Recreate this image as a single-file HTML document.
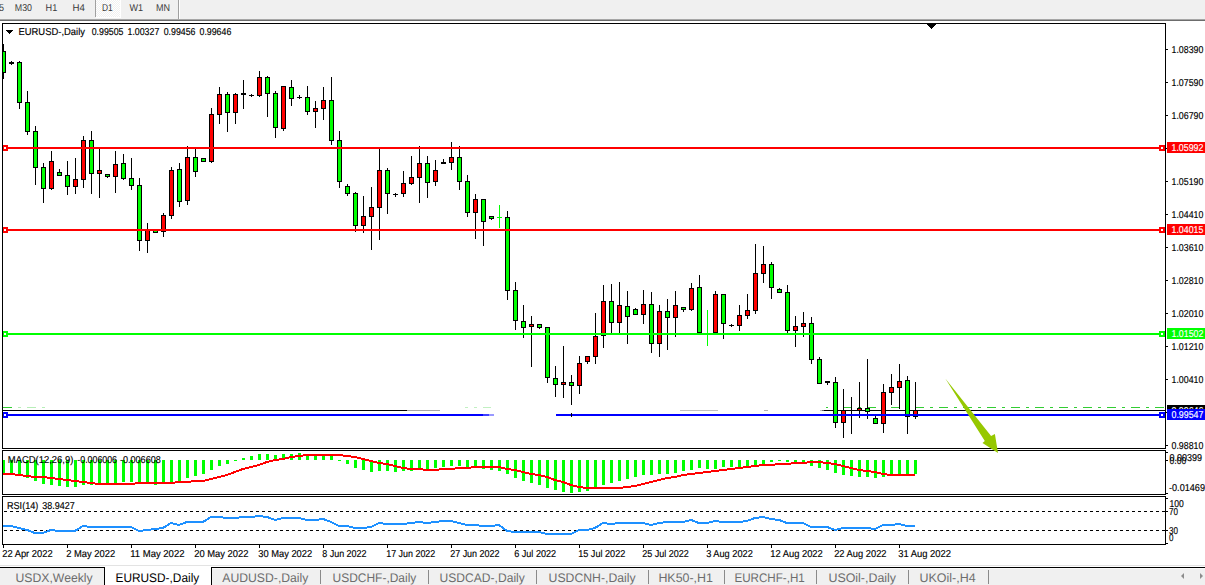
<!DOCTYPE html>
<html><head><meta charset="utf-8"><title>EURUSD-,Daily</title>
<style>
html,body{margin:0;padding:0;background:#fff;overflow:hidden;width:1205px;height:585px}
svg{display:block}
text{font-family:'Liberation Sans', Arial, sans-serif;text-rendering:geometricPrecision}
</style></head><body>
<svg width="1205" height="585" viewBox="0 0 1205 585">
<rect width="1205" height="585" fill="#fff"/>
<rect x="0" y="0" width="1205" height="19" fill="#f0f0f0"/>
<rect x="0" y="19" width="1205" height="1" fill="#a6a6a6"/>
<rect x="0" y="20" width="1205" height="1" fill="#6c6c6c"/>
<rect x="0" y="21" width="1205" height="2" fill="#ffffff"/>
<rect x="96" y="0" width="24" height="17" fill="url(#chk)"/>
<rect x="120" y="0" width="1" height="17" fill="#ffffff"/>
<rect x="96" y="17" width="25" height="1" fill="#ffffff"/>
<rect x="95" y="0" width="1" height="17" fill="#a0a0a0"/>
<rect x="178" y="0" width="1" height="19" fill="#a0a0a0"/>
<rect x="179" y="0" width="1" height="19" fill="#ffffff"/>
<text x="-1.0" y="11" font-size="10.0" fill="#3a3a3a" textLength="5.0" lengthAdjust="spacingAndGlyphs">5</text>
<text x="14.8" y="11" font-size="10.0" fill="#3a3a3a" textLength="17.2" lengthAdjust="spacingAndGlyphs">M30</text>
<text x="45.6" y="11" font-size="10.0" fill="#3a3a3a" textLength="11.7" lengthAdjust="spacingAndGlyphs">H1</text>
<text x="72.6" y="11" font-size="10.0" fill="#3a3a3a" textLength="12.4" lengthAdjust="spacingAndGlyphs">H4</text>
<text x="102" y="11" font-size="10.0" fill="#3a3a3a" textLength="10.8" lengthAdjust="spacingAndGlyphs">D1</text>
<text x="129.4" y="11" font-size="10.0" fill="#3a3a3a" textLength="13.6" lengthAdjust="spacingAndGlyphs">W1</text>
<text x="156" y="11" font-size="10.0" fill="#3a3a3a" textLength="14" lengthAdjust="spacingAndGlyphs">MN</text>
<defs><clipPath id="cm"><rect x="3" y="24" width="1162" height="424"/></clipPath><clipPath id="cmacd"><rect x="3" y="451" width="1162" height="43"/></clipPath><clipPath id="crsi"><rect x="3" y="497" width="1162" height="47"/></clipPath><pattern id="chk" x="0" y="0" width="2" height="2" patternUnits="userSpaceOnUse"><rect width="2" height="2" fill="#f0f0f0"/><rect width="1" height="1" fill="#ffffff"/><rect x="1" y="1" width="1" height="1" fill="#ffffff"/></pattern></defs>
<g clip-path="url(#cm)">
<rect x="3" y="407" width="9" height="1" fill="#32cd32"/>
<rect x="18" y="407" width="3" height="1" fill="#32cd32" opacity="0.35"/>
<rect x="27" y="407" width="9" height="1" fill="#32cd32" opacity="0.35"/>
<rect x="42" y="407" width="3" height="1" fill="#32cd32" opacity="0.35"/>
<rect x="465" y="407" width="3" height="1" fill="#32cd32" opacity="0.3"/>
<rect x="474" y="407" width="3" height="1" fill="#32cd32" opacity="0.3"/>
<rect x="483" y="407" width="8" height="1" fill="#32cd32" opacity="0.3"/>
<rect x="826" y="407" width="2" height="1" fill="#32cd32"/>
<rect x="834" y="407" width="3" height="1" fill="#32cd32"/>
<rect x="843" y="407" width="9" height="1" fill="#32cd32"/>
<rect x="858" y="407" width="3" height="1" fill="#32cd32"/>
<rect x="867" y="407" width="9" height="1" fill="#32cd32"/>
<rect x="882" y="407" width="3" height="1" fill="#32cd32"/>
<rect x="891" y="407" width="9" height="1" fill="#32cd32"/>
<rect x="906" y="407" width="3" height="1" fill="#32cd32"/>
<rect x="915" y="407" width="9" height="1" fill="#32cd32"/>
<rect x="930" y="407" width="3" height="1" fill="#32cd32"/>
<rect x="939" y="407" width="9" height="1" fill="#32cd32"/>
<rect x="954" y="407" width="3" height="1" fill="#32cd32"/>
<rect x="963" y="407" width="9" height="1" fill="#32cd32"/>
<rect x="978" y="407" width="3" height="1" fill="#32cd32"/>
<rect x="987" y="407" width="9" height="1" fill="#32cd32"/>
<rect x="1002" y="407" width="3" height="1" fill="#32cd32"/>
<rect x="1011" y="407" width="9" height="1" fill="#32cd32"/>
<rect x="1026" y="407" width="3" height="1" fill="#32cd32"/>
<rect x="1035" y="407" width="9" height="1" fill="#32cd32"/>
<rect x="1050" y="407" width="3" height="1" fill="#32cd32"/>
<rect x="1059" y="407" width="9" height="1" fill="#32cd32"/>
<rect x="1074" y="407" width="3" height="1" fill="#32cd32"/>
<rect x="1083" y="407" width="9" height="1" fill="#32cd32"/>
<rect x="1098" y="407" width="3" height="1" fill="#32cd32"/>
<rect x="1107" y="407" width="9" height="1" fill="#32cd32"/>
<rect x="1122" y="407" width="3" height="1" fill="#32cd32"/>
<rect x="1131" y="407" width="9" height="1" fill="#32cd32"/>
<rect x="1146" y="407" width="3" height="1" fill="#32cd32"/>
<rect x="1155" y="407" width="9" height="1" fill="#32cd32"/>
<rect x="3" y="410" width="404" height="1" fill="#000"/>
<rect x="407" y="410" width="33" height="1" fill="#000" opacity="0.35"/>
<rect x="680" y="410" width="38" height="1" fill="#000" opacity="0.25"/>
<rect x="764" y="410" width="4" height="1" fill="#000" opacity="0.3"/>
<rect x="820" y="410" width="2" height="1" fill="#000" opacity="0.25"/>
<rect x="822" y="410" width="2" height="1" fill="#000" opacity="0.6"/>
<rect x="824" y="410" width="341" height="1" fill="#000"/>
<rect x="3" y="44.0" width="1" height="35.0" fill="#000"/>
<rect x="1" y="51.0" width="5" height="22.0" fill="#000"/>
<rect x="2" y="52.0" width="3" height="20.0" fill="#00ff00"/>
<rect x="11" y="61.0" width="1" height="4.0" fill="#000"/>
<rect x="9" y="62.0" width="5" height="2.0" fill="#000"/>
<rect x="19" y="61.0" width="1" height="48.0" fill="#000"/>
<rect x="17" y="62.0" width="5" height="41.0" fill="#000"/>
<rect x="18" y="63.0" width="3" height="39.0" fill="#00ff00"/>
<rect x="27" y="91.0" width="1" height="44.0" fill="#000"/>
<rect x="25" y="102.0" width="5" height="30.0" fill="#000"/>
<rect x="26" y="103.0" width="3" height="28.0" fill="#00ff00"/>
<rect x="35" y="126.0" width="1" height="59.0" fill="#000"/>
<rect x="33" y="131.0" width="5" height="37.0" fill="#000"/>
<rect x="34" y="132.0" width="3" height="35.0" fill="#00ff00"/>
<rect x="43" y="163.0" width="1" height="40.0" fill="#000"/>
<rect x="41" y="167.0" width="5" height="22.0" fill="#000"/>
<rect x="42" y="168.0" width="3" height="20.0" fill="#00ff00"/>
<rect x="51" y="151.0" width="1" height="39.0" fill="#000"/>
<rect x="49" y="161.0" width="5" height="28.0" fill="#000"/>
<rect x="50" y="162.0" width="3" height="26.0" fill="#ff0000"/>
<rect x="59" y="169.0" width="1" height="7.0" fill="#000"/>
<rect x="57" y="172.0" width="5" height="4.0" fill="#000"/>
<rect x="58" y="173.0" width="3" height="2.0" fill="#00ff00"/>
<rect x="67" y="161.0" width="1" height="34.0" fill="#000"/>
<rect x="65" y="175.0" width="5" height="12.0" fill="#000"/>
<rect x="66" y="176.0" width="3" height="10.0" fill="#00ff00"/>
<rect x="75" y="158.0" width="1" height="36.0" fill="#000"/>
<rect x="73" y="179.0" width="5" height="8.0" fill="#000"/>
<rect x="74" y="180.0" width="3" height="6.0" fill="#ff0000"/>
<rect x="83" y="136.0" width="1" height="52.0" fill="#000"/>
<rect x="81" y="140.0" width="5" height="40.0" fill="#000"/>
<rect x="82" y="141.0" width="3" height="38.0" fill="#ff0000"/>
<rect x="91" y="131.0" width="1" height="63.0" fill="#000"/>
<rect x="89" y="140.0" width="5" height="34.0" fill="#000"/>
<rect x="90" y="141.0" width="3" height="32.0" fill="#00ff00"/>
<rect x="99" y="148.0" width="1" height="50.0" fill="#000"/>
<rect x="97" y="170.0" width="5" height="4.0" fill="#000"/>
<rect x="98" y="171.0" width="3" height="2.0" fill="#ff0000"/>
<rect x="107" y="174.0" width="1" height="4.0" fill="#000"/>
<rect x="105" y="174.0" width="5" height="3.0" fill="#000"/>
<rect x="106" y="175.0" width="3" height="1.0" fill="#00ff00"/>
<rect x="115" y="151.0" width="1" height="42.0" fill="#000"/>
<rect x="113" y="164.0" width="5" height="13.0" fill="#000"/>
<rect x="114" y="165.0" width="3" height="11.0" fill="#ff0000"/>
<rect x="123" y="154.0" width="1" height="26.0" fill="#000"/>
<rect x="121" y="163.0" width="5" height="16.0" fill="#000"/>
<rect x="122" y="164.0" width="3" height="14.0" fill="#00ff00"/>
<rect x="131" y="158.0" width="1" height="32.0" fill="#000"/>
<rect x="129" y="178.0" width="5" height="8.0" fill="#000"/>
<rect x="130" y="179.0" width="3" height="6.0" fill="#00ff00"/>
<rect x="139" y="178.0" width="1" height="73.0" fill="#000"/>
<rect x="137" y="185.0" width="5" height="56.0" fill="#000"/>
<rect x="138" y="186.0" width="3" height="54.0" fill="#00ff00"/>
<rect x="147" y="223.0" width="1" height="30.0" fill="#000"/>
<rect x="145" y="229.0" width="5" height="12.0" fill="#000"/>
<rect x="146" y="230.0" width="3" height="10.0" fill="#ff0000"/>
<rect x="155" y="230.0" width="1" height="3.0" fill="#000"/>
<rect x="153" y="230.0" width="5" height="3.0" fill="#000"/>
<rect x="154" y="231.0" width="3" height="1.0" fill="#00ff00"/>
<rect x="163" y="213.0" width="1" height="24.0" fill="#000"/>
<rect x="161" y="215.0" width="5" height="17.0" fill="#000"/>
<rect x="162" y="216.0" width="3" height="15.0" fill="#ff0000"/>
<rect x="171" y="167.0" width="1" height="52.0" fill="#000"/>
<rect x="169" y="170.0" width="5" height="46.0" fill="#000"/>
<rect x="170" y="171.0" width="3" height="44.0" fill="#ff0000"/>
<rect x="179" y="163.0" width="1" height="44.0" fill="#000"/>
<rect x="177" y="169.0" width="5" height="33.0" fill="#000"/>
<rect x="178" y="170.0" width="3" height="31.0" fill="#00ff00"/>
<rect x="187" y="146.0" width="1" height="59.0" fill="#000"/>
<rect x="185" y="157.0" width="5" height="44.0" fill="#000"/>
<rect x="186" y="158.0" width="3" height="42.0" fill="#ff0000"/>
<rect x="195" y="149.0" width="1" height="28.0" fill="#000"/>
<rect x="193" y="157.0" width="5" height="15.0" fill="#000"/>
<rect x="194" y="158.0" width="3" height="13.0" fill="#00ff00"/>
<rect x="203" y="158.0" width="1" height="4.0" fill="#000"/>
<rect x="201" y="158.0" width="5" height="4.0" fill="#000"/>
<rect x="202" y="159.0" width="3" height="2.0" fill="#00ff00"/>
<rect x="211" y="108.0" width="1" height="55.0" fill="#000"/>
<rect x="209" y="114.0" width="5" height="48.0" fill="#000"/>
<rect x="210" y="115.0" width="3" height="46.0" fill="#ff0000"/>
<rect x="219" y="87.0" width="1" height="37.0" fill="#000"/>
<rect x="217" y="94.0" width="5" height="21.0" fill="#000"/>
<rect x="218" y="95.0" width="3" height="19.0" fill="#ff0000"/>
<rect x="227" y="92.0" width="1" height="40.0" fill="#000"/>
<rect x="225" y="94.0" width="5" height="19.0" fill="#000"/>
<rect x="226" y="95.0" width="3" height="17.0" fill="#00ff00"/>
<rect x="235" y="93.0" width="1" height="31.0" fill="#000"/>
<rect x="233" y="94.0" width="5" height="19.0" fill="#000"/>
<rect x="234" y="95.0" width="3" height="17.0" fill="#ff0000"/>
<rect x="243" y="80.0" width="1" height="29.0" fill="#000"/>
<rect x="241" y="93.0" width="5" height="2.0" fill="#000"/>
<rect x="251" y="94.0" width="1" height="3.0" fill="#000"/>
<rect x="249" y="95.0" width="5" height="1.0" fill="#000"/>
<rect x="259" y="71.0" width="1" height="26.0" fill="#000"/>
<rect x="257" y="77.0" width="5" height="19.0" fill="#000"/>
<rect x="258" y="78.0" width="3" height="17.0" fill="#ff0000"/>
<rect x="267" y="76.0" width="1" height="41.0" fill="#000"/>
<rect x="265" y="77.0" width="5" height="17.0" fill="#000"/>
<rect x="266" y="78.0" width="3" height="15.0" fill="#00ff00"/>
<rect x="275" y="91.0" width="1" height="47.0" fill="#000"/>
<rect x="273" y="93.0" width="5" height="35.0" fill="#000"/>
<rect x="274" y="94.0" width="3" height="33.0" fill="#00ff00"/>
<rect x="283" y="86.0" width="1" height="45.0" fill="#000"/>
<rect x="281" y="86.0" width="5" height="43.0" fill="#000"/>
<rect x="282" y="87.0" width="3" height="41.0" fill="#ff0000"/>
<rect x="291" y="80.0" width="1" height="26.0" fill="#000"/>
<rect x="289" y="87.0" width="5" height="12.0" fill="#000"/>
<rect x="290" y="88.0" width="3" height="10.0" fill="#00ff00"/>
<rect x="299" y="95.0" width="1" height="4.0" fill="#000"/>
<rect x="297" y="97.0" width="5" height="1.0" fill="#000"/>
<rect x="307" y="86.0" width="1" height="29.0" fill="#000"/>
<rect x="305" y="97.0" width="5" height="15.0" fill="#000"/>
<rect x="306" y="98.0" width="3" height="13.0" fill="#00ff00"/>
<rect x="315" y="101.0" width="1" height="27.0" fill="#000"/>
<rect x="313" y="108.0" width="5" height="4.0" fill="#000"/>
<rect x="314" y="109.0" width="3" height="2.0" fill="#ff0000"/>
<rect x="323" y="87.0" width="1" height="33.0" fill="#000"/>
<rect x="321" y="100.0" width="5" height="9.0" fill="#000"/>
<rect x="322" y="101.0" width="3" height="7.0" fill="#ff0000"/>
<rect x="331" y="77.0" width="1" height="68.0" fill="#000"/>
<rect x="329" y="100.0" width="5" height="41.0" fill="#000"/>
<rect x="330" y="101.0" width="3" height="39.0" fill="#00ff00"/>
<rect x="339" y="131.0" width="1" height="57.0" fill="#000"/>
<rect x="337" y="140.0" width="5" height="42.0" fill="#000"/>
<rect x="338" y="141.0" width="3" height="40.0" fill="#00ff00"/>
<rect x="347" y="184.0" width="1" height="12.0" fill="#000"/>
<rect x="345" y="186.0" width="5" height="8.0" fill="#000"/>
<rect x="346" y="187.0" width="3" height="6.0" fill="#00ff00"/>
<rect x="355" y="192.0" width="1" height="40.0" fill="#000"/>
<rect x="353" y="193.0" width="5" height="33.0" fill="#000"/>
<rect x="354" y="194.0" width="3" height="31.0" fill="#00ff00"/>
<rect x="363" y="196.0" width="1" height="37.0" fill="#000"/>
<rect x="361" y="216.0" width="5" height="10.0" fill="#000"/>
<rect x="362" y="217.0" width="3" height="8.0" fill="#ff0000"/>
<rect x="371" y="187.0" width="1" height="63.0" fill="#000"/>
<rect x="369" y="207.0" width="5" height="10.0" fill="#000"/>
<rect x="370" y="208.0" width="3" height="8.0" fill="#ff0000"/>
<rect x="379" y="149.0" width="1" height="91.0" fill="#000"/>
<rect x="377" y="170.0" width="5" height="38.0" fill="#000"/>
<rect x="378" y="171.0" width="3" height="36.0" fill="#ff0000"/>
<rect x="387" y="168.0" width="1" height="46.0" fill="#000"/>
<rect x="385" y="170.0" width="5" height="24.0" fill="#000"/>
<rect x="386" y="171.0" width="3" height="22.0" fill="#00ff00"/>
<rect x="395" y="193.0" width="1" height="4.0" fill="#000"/>
<rect x="393" y="194.0" width="5" height="1.0" fill="#000"/>
<rect x="403" y="171.0" width="1" height="26.0" fill="#000"/>
<rect x="401" y="183.0" width="5" height="11.0" fill="#000"/>
<rect x="402" y="184.0" width="3" height="9.0" fill="#ff0000"/>
<rect x="411" y="156.0" width="1" height="29.0" fill="#000"/>
<rect x="409" y="177.0" width="5" height="7.0" fill="#000"/>
<rect x="410" y="178.0" width="3" height="5.0" fill="#ff0000"/>
<rect x="419" y="146.0" width="1" height="57.0" fill="#000"/>
<rect x="417" y="163.0" width="5" height="15.0" fill="#000"/>
<rect x="418" y="164.0" width="3" height="13.0" fill="#ff0000"/>
<rect x="427" y="156.0" width="1" height="42.0" fill="#000"/>
<rect x="425" y="163.0" width="5" height="20.0" fill="#000"/>
<rect x="426" y="164.0" width="3" height="18.0" fill="#00ff00"/>
<rect x="435" y="160.0" width="1" height="26.0" fill="#000"/>
<rect x="433" y="170.0" width="5" height="12.0" fill="#000"/>
<rect x="434" y="171.0" width="3" height="10.0" fill="#ff0000"/>
<rect x="443" y="159.0" width="1" height="5.0" fill="#000"/>
<rect x="441" y="162.0" width="5" height="2.0" fill="#000"/>
<rect x="451" y="142.0" width="1" height="28.0" fill="#000"/>
<rect x="449" y="157.0" width="5" height="6.0" fill="#000"/>
<rect x="450" y="158.0" width="3" height="4.0" fill="#ff0000"/>
<rect x="459" y="146.0" width="1" height="44.0" fill="#000"/>
<rect x="457" y="157.0" width="5" height="25.0" fill="#000"/>
<rect x="458" y="158.0" width="3" height="23.0" fill="#00ff00"/>
<rect x="467" y="175.0" width="1" height="42.0" fill="#000"/>
<rect x="465" y="181.0" width="5" height="32.0" fill="#000"/>
<rect x="466" y="182.0" width="3" height="30.0" fill="#00ff00"/>
<rect x="475" y="194.0" width="1" height="45.0" fill="#000"/>
<rect x="473" y="199.0" width="5" height="14.0" fill="#000"/>
<rect x="474" y="200.0" width="3" height="12.0" fill="#ff0000"/>
<rect x="483" y="199.0" width="1" height="47.0" fill="#000"/>
<rect x="481" y="199.0" width="5" height="23.0" fill="#000"/>
<rect x="482" y="200.0" width="3" height="21.0" fill="#00ff00"/>
<rect x="491" y="216.0" width="1" height="4.0" fill="#000"/>
<rect x="489" y="216.0" width="5" height="3.0" fill="#000"/>
<rect x="490" y="217.0" width="3" height="1.0" fill="#00ff00"/>
<rect x="499" y="205.0" width="1" height="23.0" fill="#00ff00"/>
<rect x="497" y="217.0" width="5" height="1" fill="#00ff00"/>
<rect x="507" y="211.0" width="1" height="89.0" fill="#000"/>
<rect x="505" y="217.0" width="5" height="74.0" fill="#000"/>
<rect x="506" y="218.0" width="3" height="72.0" fill="#00ff00"/>
<rect x="515" y="282.0" width="1" height="48.0" fill="#000"/>
<rect x="513" y="290.0" width="5" height="31.0" fill="#000"/>
<rect x="514" y="291.0" width="3" height="29.0" fill="#00ff00"/>
<rect x="523" y="305.0" width="1" height="33.0" fill="#000"/>
<rect x="521" y="321.0" width="5" height="7.0" fill="#000"/>
<rect x="522" y="322.0" width="3" height="5.0" fill="#00ff00"/>
<rect x="531" y="316.0" width="1" height="51.0" fill="#000"/>
<rect x="529" y="324.0" width="5" height="3.0" fill="#000"/>
<rect x="530" y="325.0" width="3" height="1.0" fill="#ff0000"/>
<rect x="539" y="324.0" width="1" height="5.0" fill="#000"/>
<rect x="537" y="324.0" width="5" height="4.0" fill="#000"/>
<rect x="538" y="325.0" width="3" height="2.0" fill="#00ff00"/>
<rect x="547" y="327.0" width="1" height="56.0" fill="#000"/>
<rect x="545" y="327.0" width="5" height="51.0" fill="#000"/>
<rect x="546" y="328.0" width="3" height="49.0" fill="#00ff00"/>
<rect x="555" y="366.0" width="1" height="31.0" fill="#000"/>
<rect x="553" y="378.0" width="5" height="7.0" fill="#000"/>
<rect x="554" y="379.0" width="3" height="5.0" fill="#00ff00"/>
<rect x="563" y="346.0" width="1" height="52.0" fill="#000"/>
<rect x="561" y="382.0" width="5" height="3.0" fill="#000"/>
<rect x="562" y="383.0" width="3" height="1.0" fill="#ff0000"/>
<rect x="571" y="375.0" width="1" height="30.0" fill="#000"/>
<rect x="569" y="382.0" width="5" height="4.0" fill="#000"/>
<rect x="570" y="383.0" width="3" height="2.0" fill="#00ff00"/>
<rect x="579" y="356.0" width="1" height="38.0" fill="#000"/>
<rect x="577" y="363.0" width="5" height="23.0" fill="#000"/>
<rect x="578" y="364.0" width="3" height="21.0" fill="#ff0000"/>
<rect x="587" y="356.0" width="1" height="8.0" fill="#000"/>
<rect x="585" y="356.0" width="5" height="6.0" fill="#000"/>
<rect x="586" y="357.0" width="3" height="4.0" fill="#ff0000"/>
<rect x="595" y="313.0" width="1" height="51.0" fill="#000"/>
<rect x="593" y="336.0" width="5" height="21.0" fill="#000"/>
<rect x="594" y="337.0" width="3" height="19.0" fill="#ff0000"/>
<rect x="603" y="285.0" width="1" height="63.0" fill="#000"/>
<rect x="601" y="301.0" width="5" height="35.0" fill="#000"/>
<rect x="602" y="302.0" width="3" height="33.0" fill="#ff0000"/>
<rect x="611" y="284.0" width="1" height="50.0" fill="#000"/>
<rect x="609" y="301.0" width="5" height="22.0" fill="#000"/>
<rect x="610" y="302.0" width="3" height="20.0" fill="#00ff00"/>
<rect x="619" y="282.0" width="1" height="52.0" fill="#000"/>
<rect x="617" y="305.0" width="5" height="18.0" fill="#000"/>
<rect x="618" y="306.0" width="3" height="16.0" fill="#ff0000"/>
<rect x="627" y="291.0" width="1" height="53.0" fill="#000"/>
<rect x="625" y="306.0" width="5" height="11.0" fill="#000"/>
<rect x="626" y="307.0" width="3" height="9.0" fill="#00ff00"/>
<rect x="635" y="308.0" width="1" height="7.0" fill="#000"/>
<rect x="633" y="309.0" width="5" height="6.0" fill="#000"/>
<rect x="634" y="310.0" width="3" height="4.0" fill="#00ff00"/>
<rect x="643" y="290.0" width="1" height="34.0" fill="#000"/>
<rect x="641" y="304.0" width="5" height="11.0" fill="#000"/>
<rect x="642" y="305.0" width="3" height="9.0" fill="#ff0000"/>
<rect x="651" y="292.0" width="1" height="61.0" fill="#000"/>
<rect x="649" y="304.0" width="5" height="40.0" fill="#000"/>
<rect x="650" y="305.0" width="3" height="38.0" fill="#00ff00"/>
<rect x="659" y="305.0" width="1" height="52.0" fill="#000"/>
<rect x="657" y="311.0" width="5" height="33.0" fill="#000"/>
<rect x="658" y="312.0" width="3" height="31.0" fill="#ff0000"/>
<rect x="667" y="299.0" width="1" height="51.0" fill="#000"/>
<rect x="665" y="311.0" width="5" height="7.0" fill="#000"/>
<rect x="666" y="312.0" width="3" height="5.0" fill="#00ff00"/>
<rect x="675" y="291.0" width="1" height="46.0" fill="#000"/>
<rect x="673" y="305.0" width="5" height="13.0" fill="#000"/>
<rect x="674" y="306.0" width="3" height="11.0" fill="#ff0000"/>
<rect x="683" y="307.0" width="1" height="5.0" fill="#000"/>
<rect x="681" y="307.0" width="5" height="3.0" fill="#000"/>
<rect x="682" y="308.0" width="3" height="1.0" fill="#00ff00"/>
<rect x="691" y="283.0" width="1" height="28.0" fill="#000"/>
<rect x="689" y="288.0" width="5" height="22.0" fill="#000"/>
<rect x="690" y="289.0" width="3" height="20.0" fill="#ff0000"/>
<rect x="699" y="275.0" width="1" height="59.0" fill="#000"/>
<rect x="697" y="287.0" width="5" height="46.0" fill="#000"/>
<rect x="698" y="288.0" width="3" height="44.0" fill="#00ff00"/>
<rect x="707" y="310.0" width="1" height="36.0" fill="#00ff00"/>
<rect x="705" y="333.0" width="5" height="1" fill="#00ff00"/>
<rect x="715" y="291.0" width="1" height="43.0" fill="#000"/>
<rect x="713" y="294.0" width="5" height="39.0" fill="#000"/>
<rect x="714" y="295.0" width="3" height="37.0" fill="#ff0000"/>
<rect x="723" y="294.0" width="1" height="45.0" fill="#000"/>
<rect x="721" y="294.0" width="5" height="30.0" fill="#000"/>
<rect x="722" y="295.0" width="3" height="28.0" fill="#00ff00"/>
<rect x="731" y="324.0" width="1" height="3.0" fill="#000"/>
<rect x="729" y="325.0" width="5" height="1.0" fill="#000"/>
<rect x="739" y="305.0" width="1" height="26.0" fill="#000"/>
<rect x="737" y="315.0" width="5" height="11.0" fill="#000"/>
<rect x="738" y="316.0" width="3" height="9.0" fill="#ff0000"/>
<rect x="747" y="294.0" width="1" height="25.0" fill="#000"/>
<rect x="745" y="310.0" width="5" height="6.0" fill="#000"/>
<rect x="746" y="311.0" width="3" height="4.0" fill="#ff0000"/>
<rect x="755" y="244.0" width="1" height="70.0" fill="#000"/>
<rect x="753" y="273.0" width="5" height="38.0" fill="#000"/>
<rect x="754" y="274.0" width="3" height="36.0" fill="#ff0000"/>
<rect x="763" y="246.0" width="1" height="37.0" fill="#000"/>
<rect x="761" y="264.0" width="5" height="10.0" fill="#000"/>
<rect x="762" y="265.0" width="3" height="8.0" fill="#ff0000"/>
<rect x="771" y="262.0" width="1" height="37.0" fill="#000"/>
<rect x="769" y="264.0" width="5" height="24.0" fill="#000"/>
<rect x="770" y="265.0" width="3" height="22.0" fill="#00ff00"/>
<rect x="779" y="288.0" width="1" height="5.0" fill="#000"/>
<rect x="777" y="289.0" width="5" height="4.0" fill="#000"/>
<rect x="778" y="290.0" width="3" height="2.0" fill="#00ff00"/>
<rect x="787" y="285.0" width="1" height="48.0" fill="#000"/>
<rect x="785" y="292.0" width="5" height="39.0" fill="#000"/>
<rect x="786" y="293.0" width="3" height="37.0" fill="#00ff00"/>
<rect x="795" y="316.0" width="1" height="31.0" fill="#000"/>
<rect x="793" y="326.0" width="5" height="5.0" fill="#000"/>
<rect x="794" y="327.0" width="3" height="3.0" fill="#ff0000"/>
<rect x="803" y="312.0" width="1" height="25.0" fill="#000"/>
<rect x="801" y="323.0" width="5" height="4.0" fill="#000"/>
<rect x="802" y="324.0" width="3" height="2.0" fill="#ff0000"/>
<rect x="811" y="317.0" width="1" height="47.0" fill="#000"/>
<rect x="809" y="323.0" width="5" height="37.0" fill="#000"/>
<rect x="810" y="324.0" width="3" height="35.0" fill="#00ff00"/>
<rect x="819" y="357.0" width="1" height="27.0" fill="#000"/>
<rect x="817" y="359.0" width="5" height="25.0" fill="#000"/>
<rect x="818" y="360.0" width="3" height="23.0" fill="#00ff00"/>
<rect x="827" y="381.0" width="1" height="4.0" fill="#000"/>
<rect x="825" y="381.0" width="5" height="2.0" fill="#000"/>
<rect x="835" y="377.0" width="1" height="51.0" fill="#000"/>
<rect x="833" y="382.0" width="5" height="41.0" fill="#000"/>
<rect x="834" y="383.0" width="3" height="39.0" fill="#00ff00"/>
<rect x="843" y="389.0" width="1" height="49.0" fill="#000"/>
<rect x="841" y="410.0" width="5" height="13.0" fill="#000"/>
<rect x="842" y="411.0" width="3" height="11.0" fill="#ff0000"/>
<rect x="851" y="397.0" width="1" height="37.0" fill="#000"/>
<rect x="849" y="410.0" width="5" height="1.0" fill="#000"/>
<rect x="859" y="382.0" width="1" height="36.0" fill="#000"/>
<rect x="857" y="408.0" width="5" height="3.0" fill="#000"/>
<rect x="858" y="409.0" width="3" height="1.0" fill="#ff0000"/>
<rect x="867" y="359.0" width="1" height="60.0" fill="#000"/>
<rect x="865" y="408.0" width="5" height="4.0" fill="#000"/>
<rect x="866" y="409.0" width="3" height="2.0" fill="#00ff00"/>
<rect x="875" y="416.0" width="1" height="8.0" fill="#000"/>
<rect x="873" y="418.0" width="5" height="6.0" fill="#000"/>
<rect x="874" y="419.0" width="3" height="4.0" fill="#00ff00"/>
<rect x="883" y="384.0" width="1" height="49.0" fill="#000"/>
<rect x="881" y="392.0" width="5" height="32.0" fill="#000"/>
<rect x="882" y="393.0" width="3" height="30.0" fill="#ff0000"/>
<rect x="891" y="374.0" width="1" height="31.0" fill="#000"/>
<rect x="889" y="387.0" width="5" height="6.0" fill="#000"/>
<rect x="890" y="388.0" width="3" height="4.0" fill="#ff0000"/>
<rect x="899" y="364.0" width="1" height="45.0" fill="#000"/>
<rect x="897" y="381.0" width="5" height="7.0" fill="#000"/>
<rect x="898" y="382.0" width="3" height="5.0" fill="#ff0000"/>
<rect x="907" y="376.0" width="1" height="58.0" fill="#000"/>
<rect x="905" y="380.0" width="5" height="37.0" fill="#000"/>
<rect x="906" y="381.0" width="3" height="35.0" fill="#00ff00"/>
<rect x="915" y="382.0" width="1" height="37.0" fill="#000"/>
<rect x="913" y="410.0" width="5" height="7.0" fill="#000"/>
<rect x="914" y="411.0" width="3" height="5.0" fill="#ff0000"/>
<rect x="3" y="147" width="1162" height="2" fill="#ff0000"/>
<rect x="3" y="229" width="1162" height="2" fill="#ff0000"/>
<rect x="3" y="333" width="1162" height="2" fill="#00ff00"/>
<rect x="3" y="414" width="480" height="2" fill="#0000ff"/>
<rect x="483" y="414" width="6" height="2" fill="#0000ff" opacity="0.75"/>
<rect x="489" y="414" width="5" height="2" fill="#0000ff" opacity="0.4"/>
<rect x="556" y="414" width="609" height="2" fill="#0000ff"/>
<rect x="571" y="413" width="1" height="4" fill="#000"/>
</g>
<rect x="2" y="145" width="6" height="6" fill="#ff0000"/>
<rect x="4" y="147" width="2" height="2" fill="#fff"/>
<rect x="1159" y="145" width="6" height="6" fill="#ff0000"/>
<rect x="1161" y="147" width="2" height="2" fill="#fff"/>
<rect x="2" y="227" width="6" height="6" fill="#ff0000"/>
<rect x="4" y="229" width="2" height="2" fill="#fff"/>
<rect x="1159" y="227" width="6" height="6" fill="#ff0000"/>
<rect x="1161" y="229" width="2" height="2" fill="#fff"/>
<rect x="2" y="331" width="6" height="6" fill="#00ff00"/>
<rect x="4" y="333" width="2" height="2" fill="#fff"/>
<rect x="1159" y="331" width="6" height="6" fill="#00ff00"/>
<rect x="1161" y="333" width="2" height="2" fill="#fff"/>
<rect x="2" y="412" width="6" height="6" fill="#0000ff"/>
<rect x="4" y="414" width="2" height="2" fill="#fff"/>
<rect x="1159" y="412" width="6" height="6" fill="#0000ff"/>
<rect x="1161" y="414" width="2" height="2" fill="#fff"/>
<polygon points="6,30 13,30 9.5,34" fill="#000" shape-rendering="crispEdges"/>
<text x="18.4" y="35" font-size="10.0" fill="#000" stroke="#000" stroke-width="0.15" textLength="66.6" lengthAdjust="spacingAndGlyphs">EURUSD-,Daily</text>
<text x="91.7" y="35" font-size="10.0" fill="#000" stroke="#000" stroke-width="0.15" textLength="31.8" lengthAdjust="spacingAndGlyphs">0.99505</text>
<text x="127.5" y="35" font-size="10.0" fill="#000" stroke="#000" stroke-width="0.15" textLength="31.8" lengthAdjust="spacingAndGlyphs">1.00327</text>
<text x="163.7" y="35" font-size="10.0" fill="#000" stroke="#000" stroke-width="0.15" textLength="31.8" lengthAdjust="spacingAndGlyphs">0.99456</text>
<text x="199.5" y="35" font-size="10.0" fill="#000" stroke="#000" stroke-width="0.15" textLength="31.8" lengthAdjust="spacingAndGlyphs">0.99646</text>
<polygon points="926,23 937,23 931.5,29.5" fill="#000" shape-rendering="crispEdges"/>
<g clip-path="url(#cmacd)">
<rect x="2" y="460" width="3" height="14" fill="#00ff00"/>
<rect x="10" y="460" width="3" height="14" fill="#00ff00"/>
<rect x="18" y="460" width="3" height="14" fill="#00ff00"/>
<rect x="26" y="460" width="3" height="18" fill="#00ff00"/>
<rect x="34" y="460" width="3" height="21" fill="#00ff00"/>
<rect x="42" y="460" width="3" height="24" fill="#00ff00"/>
<rect x="50" y="460" width="3" height="25" fill="#00ff00"/>
<rect x="58" y="460" width="3" height="26" fill="#00ff00"/>
<rect x="66" y="460" width="3" height="27" fill="#00ff00"/>
<rect x="74" y="460" width="3" height="27" fill="#00ff00"/>
<rect x="82" y="460" width="3" height="25" fill="#00ff00"/>
<rect x="90" y="460" width="3" height="25" fill="#00ff00"/>
<rect x="98" y="460" width="3" height="24" fill="#00ff00"/>
<rect x="106" y="460" width="3" height="24" fill="#00ff00"/>
<rect x="114" y="460" width="3" height="24" fill="#00ff00"/>
<rect x="122" y="460" width="3" height="22" fill="#00ff00"/>
<rect x="130" y="460" width="3" height="22" fill="#00ff00"/>
<rect x="138" y="460" width="3" height="22" fill="#00ff00"/>
<rect x="146" y="460" width="3" height="22" fill="#00ff00"/>
<rect x="154" y="460" width="3" height="25" fill="#00ff00"/>
<rect x="162" y="460" width="3" height="22" fill="#00ff00"/>
<rect x="170" y="460" width="3" height="22" fill="#00ff00"/>
<rect x="178" y="460" width="3" height="22" fill="#00ff00"/>
<rect x="186" y="460" width="3" height="18" fill="#00ff00"/>
<rect x="194" y="460" width="3" height="16" fill="#00ff00"/>
<rect x="202" y="460" width="3" height="14" fill="#00ff00"/>
<rect x="210" y="460" width="3" height="10" fill="#00ff00"/>
<rect x="218" y="460" width="3" height="6" fill="#00ff00"/>
<rect x="226" y="460" width="3" height="4" fill="#00ff00"/>
<rect x="234" y="460" width="3" height="1" fill="#00ff00"/>
<rect x="242" y="458" width="3" height="2" fill="#00ff00"/>
<rect x="250" y="456" width="3" height="4" fill="#00ff00"/>
<rect x="258" y="454" width="3" height="6" fill="#00ff00"/>
<rect x="266" y="454" width="3" height="6" fill="#00ff00"/>
<rect x="274" y="455" width="3" height="5" fill="#00ff00"/>
<rect x="282" y="454" width="3" height="6" fill="#00ff00"/>
<rect x="290" y="454" width="3" height="6" fill="#00ff00"/>
<rect x="298" y="453" width="3" height="7" fill="#00ff00"/>
<rect x="306" y="454" width="3" height="6" fill="#00ff00"/>
<rect x="314" y="454" width="3" height="6" fill="#00ff00"/>
<rect x="322" y="454" width="3" height="6" fill="#00ff00"/>
<rect x="330" y="455" width="3" height="5" fill="#00ff00"/>
<rect x="338" y="460" width="3" height="1" fill="#00ff00"/>
<rect x="346" y="460" width="3" height="4" fill="#00ff00"/>
<rect x="354" y="460" width="3" height="8" fill="#00ff00"/>
<rect x="362" y="460" width="3" height="10" fill="#00ff00"/>
<rect x="370" y="460" width="3" height="12" fill="#00ff00"/>
<rect x="378" y="460" width="3" height="11" fill="#00ff00"/>
<rect x="386" y="460" width="3" height="11" fill="#00ff00"/>
<rect x="394" y="460" width="3" height="12" fill="#00ff00"/>
<rect x="402" y="460" width="3" height="11" fill="#00ff00"/>
<rect x="410" y="460" width="3" height="11" fill="#00ff00"/>
<rect x="418" y="460" width="3" height="10" fill="#00ff00"/>
<rect x="426" y="460" width="3" height="10" fill="#00ff00"/>
<rect x="434" y="460" width="3" height="8" fill="#00ff00"/>
<rect x="442" y="460" width="3" height="7" fill="#00ff00"/>
<rect x="450" y="460" width="3" height="6" fill="#00ff00"/>
<rect x="458" y="460" width="3" height="6" fill="#00ff00"/>
<rect x="466" y="460" width="3" height="8" fill="#00ff00"/>
<rect x="474" y="460" width="3" height="6" fill="#00ff00"/>
<rect x="482" y="460" width="3" height="9" fill="#00ff00"/>
<rect x="490" y="460" width="3" height="10" fill="#00ff00"/>
<rect x="498" y="460" width="3" height="11" fill="#00ff00"/>
<rect x="506" y="460" width="3" height="14" fill="#00ff00"/>
<rect x="514" y="460" width="3" height="18" fill="#00ff00"/>
<rect x="522" y="460" width="3" height="21" fill="#00ff00"/>
<rect x="530" y="460" width="3" height="23" fill="#00ff00"/>
<rect x="538" y="460" width="3" height="25" fill="#00ff00"/>
<rect x="546" y="460" width="3" height="28" fill="#00ff00"/>
<rect x="554" y="460" width="3" height="30" fill="#00ff00"/>
<rect x="562" y="460" width="3" height="32" fill="#00ff00"/>
<rect x="570" y="460" width="3" height="33" fill="#00ff00"/>
<rect x="578" y="460" width="3" height="32" fill="#00ff00"/>
<rect x="586" y="460" width="3" height="31" fill="#00ff00"/>
<rect x="594" y="460" width="3" height="28" fill="#00ff00"/>
<rect x="602" y="460" width="3" height="25" fill="#00ff00"/>
<rect x="610" y="460" width="3" height="23" fill="#00ff00"/>
<rect x="618" y="460" width="3" height="21" fill="#00ff00"/>
<rect x="626" y="460" width="3" height="19" fill="#00ff00"/>
<rect x="634" y="460" width="3" height="17" fill="#00ff00"/>
<rect x="642" y="460" width="3" height="15" fill="#00ff00"/>
<rect x="650" y="460" width="3" height="15" fill="#00ff00"/>
<rect x="658" y="460" width="3" height="14" fill="#00ff00"/>
<rect x="666" y="460" width="3" height="14" fill="#00ff00"/>
<rect x="674" y="460" width="3" height="13" fill="#00ff00"/>
<rect x="682" y="460" width="3" height="11" fill="#00ff00"/>
<rect x="690" y="460" width="3" height="10" fill="#00ff00"/>
<rect x="698" y="460" width="3" height="8" fill="#00ff00"/>
<rect x="706" y="460" width="3" height="9" fill="#00ff00"/>
<rect x="714" y="460" width="3" height="9" fill="#00ff00"/>
<rect x="722" y="460" width="3" height="7" fill="#00ff00"/>
<rect x="730" y="460" width="3" height="7" fill="#00ff00"/>
<rect x="738" y="460" width="3" height="7" fill="#00ff00"/>
<rect x="746" y="460" width="3" height="7" fill="#00ff00"/>
<rect x="754" y="460" width="3" height="6" fill="#00ff00"/>
<rect x="762" y="460" width="3" height="4" fill="#00ff00"/>
<rect x="770" y="460" width="3" height="2" fill="#00ff00"/>
<rect x="778" y="460" width="3" height="1" fill="#00ff00"/>
<rect x="786" y="460" width="3" height="2" fill="#00ff00"/>
<rect x="794" y="460" width="3" height="2" fill="#00ff00"/>
<rect x="802" y="460" width="3" height="2" fill="#00ff00"/>
<rect x="810" y="460" width="3" height="6" fill="#00ff00"/>
<rect x="818" y="460" width="3" height="8" fill="#00ff00"/>
<rect x="826" y="460" width="3" height="10" fill="#00ff00"/>
<rect x="834" y="460" width="3" height="13" fill="#00ff00"/>
<rect x="842" y="460" width="3" height="15" fill="#00ff00"/>
<rect x="850" y="460" width="3" height="16" fill="#00ff00"/>
<rect x="858" y="460" width="3" height="17" fill="#00ff00"/>
<rect x="866" y="460" width="3" height="17" fill="#00ff00"/>
<rect x="874" y="460" width="3" height="18" fill="#00ff00"/>
<rect x="882" y="460" width="3" height="17" fill="#00ff00"/>
<rect x="890" y="460" width="3" height="16" fill="#00ff00"/>
<rect x="898" y="460" width="3" height="14" fill="#00ff00"/>
<rect x="906" y="460" width="3" height="14" fill="#00ff00"/>
<rect x="914" y="460" width="3" height="14" fill="#00ff00"/>
<polyline points="3,474 11,474 19,475 27,476 35,477 43,477 51,478 59,479 67,480 75,481 83,482 91,483 99,484 107,484 115,484 123,484 131,484 139,483 147,483 155,483 163,483 171,483 179,482 187,482 195,481 203,481 211,479 219,477 227,475 235,472 243,469 251,467 259,465 267,462 275,460 283,459 291,457 299,456 307,455 315,455 323,455 331,455 339,455 347,456 355,457 363,459 371,461 379,463 387,464 395,466 403,468 411,469 419,469 427,470 435,470 443,469 451,469 459,468 467,468 475,467 483,467 491,467 499,467 507,469 515,470 523,472 531,474 539,475 547,477 555,480 563,482 571,485 579,487 587,488 595,488 603,488 611,488 619,488 627,487 635,486 643,484 651,482 659,480 667,478 675,477 683,475 691,474 699,473 707,472 715,471 723,470 731,469 739,468 747,467 755,466 763,465 771,465 779,464 787,464 795,463 803,463 811,462 819,462 827,463 835,464 843,466 851,468 859,470 867,471 875,472 883,474 891,475 899,475 907,475 915,475" fill="none" stroke="#ff0000" stroke-width="2" shape-rendering="crispEdges"/>
</g>
<text x="7.8" y="463" font-size="10.0" fill="#000" stroke="#000" stroke-width="0.15" textLength="65.5" lengthAdjust="spacingAndGlyphs">MACD(12,26,9)</text>
<text x="77.3" y="463" font-size="10.0" fill="#000" stroke="#000" stroke-width="0.15" textLength="39.7" lengthAdjust="spacingAndGlyphs">-0.006006</text>
<text x="119.9" y="463" font-size="10.0" fill="#000" stroke="#000" stroke-width="0.15" textLength="40.9" lengthAdjust="spacingAndGlyphs">-0.006608</text>
<g clip-path="url(#crsi)">
<line x1="4" y1="511.5" x2="1165" y2="511.5" stroke="#000" stroke-width="1" stroke-dasharray="3,3" shape-rendering="crispEdges"/>
<line x1="4" y1="530.5" x2="1165" y2="530.5" stroke="#000" stroke-width="1" stroke-dasharray="3,3" shape-rendering="crispEdges"/>
<polyline points="3,526 11,526 19,528 27,530 35,533 43,533 51,530 59,531 67,531 75,531 83,526 91,527 99,527 107,527 115,527 123,527 131,527 139,531 147,530 155,529 163,528 171,523 179,525 187,522 195,522 203,522 211,517 219,517 227,518 235,518 243,517 251,517 259,516 267,517 275,520 283,518 291,518 299,518 307,520 315,520 323,519 331,522 339,526 347,526 355,528 363,528 371,527 379,523 387,524 395,524 403,524 411,523 419,522 427,523 435,522 443,521 451,521 459,523 467,525 475,525 483,526 491,526 499,525 507,531 515,532 523,532 531,532 539,532 547,534 555,534 563,534 571,534 579,530 587,530 595,528 603,523 611,524 619,523 627,523 635,523 643,523 651,525 659,523 667,522 675,522 683,522 691,520 699,523 707,523 715,521 723,522 731,522 739,522 747,521 755,518 763,517 771,519 779,520 787,523 795,523 803,523 811,527 819,527 827,527 835,530 843,528 851,528 859,528 867,528 875,529 883,525 891,525 899,524 907,526 915,526" fill="none" stroke="#1e90ff" stroke-width="2" shape-rendering="crispEdges"/>
</g>
<text x="7" y="508.5" font-size="10.0" fill="#000" stroke="#000" stroke-width="0.15" textLength="31.3" lengthAdjust="spacingAndGlyphs">RSI(14)</text>
<text x="42.3" y="508.5" font-size="10.0" fill="#000" stroke="#000" stroke-width="0.15" textLength="32.4" lengthAdjust="spacingAndGlyphs">38.9427</text>
<rect x="2" y="23" width="1164" height="1" fill="#000"/>
<rect x="2" y="448" width="1164" height="1" fill="#000"/>
<rect x="2" y="23" width="1" height="426" fill="#000"/>
<rect x="1165" y="23" width="1" height="426" fill="#000"/>
<rect x="2" y="450" width="1164" height="1" fill="#000"/>
<rect x="2" y="494" width="1164" height="1" fill="#000"/>
<rect x="2" y="450" width="1" height="45" fill="#000"/>
<rect x="1165" y="450" width="1" height="45" fill="#000"/>
<rect x="2" y="496" width="1164" height="1" fill="#000"/>
<rect x="2" y="544" width="1164" height="1" fill="#000"/>
<rect x="2" y="496" width="1" height="49" fill="#000"/>
<rect x="1165" y="496" width="1" height="49" fill="#000"/>
<rect x="1166" y="49" width="2" height="1" fill="#000"/>
<text x="1171.5" y="53" font-size="10.0" fill="#000" stroke="#000" stroke-width="0.15" textLength="31.9" lengthAdjust="spacingAndGlyphs">1.08390</text>
<rect x="1166" y="82" width="2" height="1" fill="#000"/>
<text x="1171.5" y="86" font-size="10.0" fill="#000" stroke="#000" stroke-width="0.15" textLength="31.9" lengthAdjust="spacingAndGlyphs">1.07590</text>
<rect x="1166" y="115" width="2" height="1" fill="#000"/>
<text x="1171.5" y="119" font-size="10.0" fill="#000" stroke="#000" stroke-width="0.15" textLength="31.9" lengthAdjust="spacingAndGlyphs">1.06790</text>
<rect x="1166" y="148" width="2" height="1" fill="#000"/>
<rect x="1166" y="181" width="2" height="1" fill="#000"/>
<text x="1171.5" y="185" font-size="10.0" fill="#000" stroke="#000" stroke-width="0.15" textLength="31.9" lengthAdjust="spacingAndGlyphs">1.05190</text>
<rect x="1166" y="214" width="2" height="1" fill="#000"/>
<text x="1171.5" y="218" font-size="10.0" fill="#000" stroke="#000" stroke-width="0.15" textLength="31.9" lengthAdjust="spacingAndGlyphs">1.04410</text>
<rect x="1166" y="247" width="2" height="1" fill="#000"/>
<text x="1171.5" y="251" font-size="10.0" fill="#000" stroke="#000" stroke-width="0.15" textLength="31.9" lengthAdjust="spacingAndGlyphs">1.03610</text>
<rect x="1166" y="280" width="2" height="1" fill="#000"/>
<text x="1171.5" y="284" font-size="10.0" fill="#000" stroke="#000" stroke-width="0.15" textLength="31.9" lengthAdjust="spacingAndGlyphs">1.02810</text>
<rect x="1166" y="313" width="2" height="1" fill="#000"/>
<text x="1171.5" y="317" font-size="10.0" fill="#000" stroke="#000" stroke-width="0.15" textLength="31.9" lengthAdjust="spacingAndGlyphs">1.02010</text>
<rect x="1166" y="346" width="2" height="1" fill="#000"/>
<text x="1171.5" y="350" font-size="10.0" fill="#000" stroke="#000" stroke-width="0.15" textLength="31.9" lengthAdjust="spacingAndGlyphs">1.01210</text>
<rect x="1166" y="379" width="2" height="1" fill="#000"/>
<text x="1171.5" y="383" font-size="10.0" fill="#000" stroke="#000" stroke-width="0.15" textLength="31.9" lengthAdjust="spacingAndGlyphs">1.00410</text>
<rect x="1166" y="412" width="2" height="1" fill="#000"/>
<rect x="1166" y="445" width="2" height="1" fill="#000"/>
<text x="1171.5" y="449" font-size="10.0" fill="#000" stroke="#000" stroke-width="0.15" textLength="31.9" lengthAdjust="spacingAndGlyphs">0.98810</text>
<rect x="1167" y="142" width="38" height="11" fill="#ff0000"/>
<text x="1171.5" y="151" font-size="10.0" fill="#fff" stroke="#fff" stroke-width="0.15" textLength="31.9" lengthAdjust="spacingAndGlyphs">1.05992</text>
<rect x="1167" y="224" width="38" height="11" fill="#ff0000"/>
<text x="1171.5" y="233" font-size="10.0" fill="#fff" stroke="#fff" stroke-width="0.15" textLength="31.9" lengthAdjust="spacingAndGlyphs">1.04015</text>
<rect x="1167" y="328" width="38" height="11" fill="#00ff00"/>
<text x="1171.5" y="337" font-size="10.0" fill="#fff" stroke="#fff" stroke-width="0.15" textLength="31.9" lengthAdjust="spacingAndGlyphs">1.01502</text>
<rect x="1167" y="405" width="38" height="11" fill="#000000"/>
<text x="1171.5" y="414" font-size="10.0" fill="#fff" stroke="#fff" stroke-width="0.15" textLength="31.9" lengthAdjust="spacingAndGlyphs">0.99646</text>
<rect x="1167" y="409" width="38" height="11" fill="#0000ff"/>
<text x="1171.5" y="418" font-size="10.0" fill="#fff" stroke="#fff" stroke-width="0.15" textLength="31.9" lengthAdjust="spacingAndGlyphs">0.99547</text>
<rect x="1166" y="452" width="2" height="1" fill="#000"/>
<rect x="1166" y="460" width="2" height="1" fill="#000"/>
<rect x="1166" y="493" width="2" height="1" fill="#000"/>
<text x="1169.5" y="461" font-size="10.0" fill="#000" stroke="#000" stroke-width="0.15" textLength="32.5" lengthAdjust="spacingAndGlyphs">0.00399</text>
<text x="1169.5" y="463.5" font-size="10.0" fill="#000" stroke="#000" stroke-width="0.15" textLength="16.7" lengthAdjust="spacingAndGlyphs">0.00</text>
<text x="1169" y="491" font-size="10.0" fill="#000" stroke="#000" stroke-width="0.15" textLength="36" lengthAdjust="spacingAndGlyphs">-0.01469</text>
<rect x="1166" y="498" width="2" height="1" fill="#000"/>
<rect x="1166" y="511" width="2" height="1" fill="#000"/>
<rect x="1166" y="530" width="2" height="1" fill="#000"/>
<rect x="1166" y="543" width="2" height="1" fill="#000"/>
<text x="1169.4" y="507" font-size="10.0" fill="#000" stroke="#000" stroke-width="0.15" textLength="14.3" lengthAdjust="spacingAndGlyphs">100</text>
<text x="1169" y="515" font-size="10.0" fill="#000" stroke="#000" stroke-width="0.15" textLength="9" lengthAdjust="spacingAndGlyphs">70</text>
<text x="1169" y="534" font-size="10.0" fill="#000" stroke="#000" stroke-width="0.15" textLength="9" lengthAdjust="spacingAndGlyphs">30</text>
<text x="1169" y="541" font-size="10.0" fill="#000" stroke="#000" stroke-width="0.15" textLength="4.5" lengthAdjust="spacingAndGlyphs">0</text>
<rect x="3" y="545" width="1" height="3" fill="#000"/>
<text x="2.2" y="557" font-size="10.0" fill="#000" stroke="#000" stroke-width="0.15" textLength="50.4" lengthAdjust="spacingAndGlyphs">22 Apr 2022</text>
<rect x="67" y="545" width="1" height="3" fill="#000"/>
<text x="66.2" y="557" font-size="10.0" fill="#000" stroke="#000" stroke-width="0.15" textLength="49" lengthAdjust="spacingAndGlyphs">2 May 2022</text>
<rect x="131" y="545" width="1" height="3" fill="#000"/>
<text x="130.2" y="557" font-size="10.0" fill="#000" stroke="#000" stroke-width="0.15" textLength="54.3" lengthAdjust="spacingAndGlyphs">11 May 2022</text>
<rect x="195" y="545" width="1" height="3" fill="#000"/>
<text x="194.2" y="557" font-size="10.0" fill="#000" stroke="#000" stroke-width="0.15" textLength="54.3" lengthAdjust="spacingAndGlyphs">20 May 2022</text>
<rect x="259" y="545" width="1" height="3" fill="#000"/>
<text x="258.2" y="557" font-size="10.0" fill="#000" stroke="#000" stroke-width="0.15" textLength="54" lengthAdjust="spacingAndGlyphs">30 May 2022</text>
<rect x="323" y="545" width="1" height="3" fill="#000"/>
<text x="322.2" y="557" font-size="10.0" fill="#000" stroke="#000" stroke-width="0.15" textLength="44.4" lengthAdjust="spacingAndGlyphs">8 Jun 2022</text>
<rect x="387" y="545" width="1" height="3" fill="#000"/>
<text x="386.2" y="557" font-size="10.0" fill="#000" stroke="#000" stroke-width="0.15" textLength="49.1" lengthAdjust="spacingAndGlyphs">17 Jun 2022</text>
<rect x="451" y="545" width="1" height="3" fill="#000"/>
<text x="450.2" y="557" font-size="10.0" fill="#000" stroke="#000" stroke-width="0.15" textLength="49.3" lengthAdjust="spacingAndGlyphs">27 Jun 2022</text>
<rect x="515" y="545" width="1" height="3" fill="#000"/>
<text x="514.2" y="557" font-size="10.0" fill="#000" stroke="#000" stroke-width="0.15" textLength="41.9" lengthAdjust="spacingAndGlyphs">6 Jul 2022</text>
<rect x="579" y="545" width="1" height="3" fill="#000"/>
<text x="578.2" y="557" font-size="10.0" fill="#000" stroke="#000" stroke-width="0.15" textLength="47.1" lengthAdjust="spacingAndGlyphs">15 Jul 2022</text>
<rect x="643" y="545" width="1" height="3" fill="#000"/>
<text x="642.2" y="557" font-size="10.0" fill="#000" stroke="#000" stroke-width="0.15" textLength="46.6" lengthAdjust="spacingAndGlyphs">25 Jul 2022</text>
<rect x="707" y="545" width="1" height="3" fill="#000"/>
<text x="706.2" y="557" font-size="10.0" fill="#000" stroke="#000" stroke-width="0.15" textLength="46.6" lengthAdjust="spacingAndGlyphs">3 Aug 2022</text>
<rect x="771" y="545" width="1" height="3" fill="#000"/>
<text x="770.2" y="557" font-size="10.0" fill="#000" stroke="#000" stroke-width="0.15" textLength="52.6" lengthAdjust="spacingAndGlyphs">12 Aug 2022</text>
<rect x="835" y="545" width="1" height="3" fill="#000"/>
<text x="834.2" y="557" font-size="10.0" fill="#000" stroke="#000" stroke-width="0.15" textLength="52.3" lengthAdjust="spacingAndGlyphs">22 Aug 2022</text>
<rect x="899" y="545" width="1" height="3" fill="#000"/>
<text x="898.2" y="557" font-size="10.0" fill="#000" stroke="#000" stroke-width="0.15" textLength="52.8" lengthAdjust="spacingAndGlyphs">31 Aug 2022</text>
<polygon points="945.3,378.5 991.1,435.9 994.9,434.1 998,453 982.5,443 984.8,441.1" fill="#96c800"/>
<rect x="0" y="565" width="1205" height="1" fill="#e3e3e3"/>
<rect x="0" y="566" width="1205" height="1" fill="#ffffff"/>
<rect x="0" y="567" width="1205" height="18" fill="#f0f0f0"/>
<rect x="0" y="567" width="105" height="1" fill="#000"/>
<rect x="104" y="567" width="1" height="18" fill="#000"/>
<rect x="105" y="566" width="106" height="19" fill="#ffffff"/>
<rect x="211" y="567" width="994" height="1" fill="#000"/>
<rect x="211" y="567" width="1" height="18" fill="#000"/>
<rect x="212" y="568" width="993" height="1" fill="#fafafa"/>
<rect x="320" y="570" width="1" height="14" fill="#8a8a8a"/>
<rect x="428" y="570" width="1" height="14" fill="#8a8a8a"/>
<rect x="536" y="570" width="1" height="14" fill="#8a8a8a"/>
<rect x="648" y="570" width="1" height="14" fill="#8a8a8a"/>
<rect x="724" y="570" width="1" height="14" fill="#8a8a8a"/>
<rect x="816" y="570" width="1" height="14" fill="#8a8a8a"/>
<rect x="908" y="570" width="1" height="14" fill="#8a8a8a"/>
<rect x="988" y="570" width="1" height="14" fill="#8a8a8a"/>
<text x="15.5" y="582" font-size="12.5" fill="#6d6d6d" textLength="77.2" lengthAdjust="spacingAndGlyphs">USDX,Weekly</text>
<text x="115.5" y="582" font-size="12.5" fill="#000" textLength="83.7" lengthAdjust="spacingAndGlyphs">EURUSD-,Daily</text>
<text x="222.3" y="582" font-size="12.5" fill="#6d6d6d" textLength="86.1" lengthAdjust="spacingAndGlyphs">AUDUSD-,Daily</text>
<text x="332.6" y="582" font-size="12.5" fill="#6d6d6d" textLength="83.7" lengthAdjust="spacingAndGlyphs">USDCHF-,Daily</text>
<text x="439.6" y="582" font-size="12.5" fill="#6d6d6d" textLength="85.2" lengthAdjust="spacingAndGlyphs">USDCAD-,Daily</text>
<text x="548.6" y="582" font-size="12.5" fill="#6d6d6d" textLength="87" lengthAdjust="spacingAndGlyphs">USDCNH-,Daily</text>
<text x="658.4" y="582" font-size="12.5" fill="#6d6d6d" textLength="54.5" lengthAdjust="spacingAndGlyphs">HK50-,H1</text>
<text x="734.4" y="582" font-size="12.5" fill="#6d6d6d" textLength="70.4" lengthAdjust="spacingAndGlyphs">EURCHF-,H1</text>
<text x="828.5" y="582" font-size="12.5" fill="#6d6d6d" textLength="67.5" lengthAdjust="spacingAndGlyphs">USOil-,Daily</text>
<text x="919.5" y="582" font-size="12.5" fill="#6d6d6d" textLength="56.1" lengthAdjust="spacingAndGlyphs">UKOil-,H4</text>
<polygon points="1184,573 1184,579 1181,576" fill="#8c8c8c"/>
<polygon points="1200,573 1200,579 1203,576" fill="#8c8c8c"/>
</svg>
</body></html>
